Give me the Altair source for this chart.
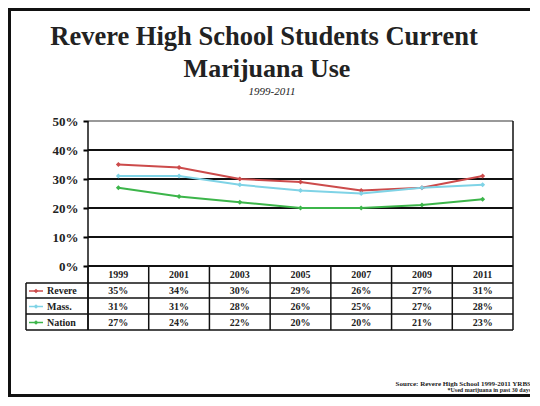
import altair as alt
import pandas as pd

years = ["1999", "2001", "2003", "2005", "2007", "2009", "2011"]
series = ["Revere", "Mass.", "Nation"]
revere = [35, 34, 30, 29, 26, 27, 31]
mass = [31, 31, 28, 26, 25, 27, 28]
nation = [27, 24, 22, 20, 20, 21, 23]
colors = ["#cc4b4b", "#7fd3e6", "#3cb54a"]
y_ticks = [0, 10, 20, 30, 40, 50]
title_lines = ["Revere High School Students Current", "Marijuana Use"]
subtitle = "1999-2011"
source_lines = ["Source: Revere High School 1999-2011 YRBS", "*Used marijuana in past 30 days"]

W, H = 425, 145
SERIF = "Liberation Serif"

rows = []
for s, vals in zip(series, [revere, mass, nation]):
    for y, v in zip(years, vals):
        rows.append({"year": y, "series": s, "value": v})
df = pd.DataFrame(rows)
years_df = pd.DataFrame({"year": years})
one = pd.DataFrame({"a": [0]})

xs = alt.X("year:O", sort=years, scale=alt.Scale(domain=years, paddingInner=0, paddingOuter=0), axis=None)
yaxis = alt.Axis(values=y_ticks, labelExpr="datum.value + '%'", grid=False, domain=False,
                 ticks=True, tickSize=5, tickColor="black", tickWidth=2,
                 labelFont=SERIF, labelFontWeight="bold", labelFontSize=13, labelColor="#222",
                 labelPadding=5, title=None)
ys = alt.Y("value:Q", scale=alt.Scale(domain=[0, 50]), axis=yaxis)
color = alt.Color("series:N", scale=alt.Scale(domain=series, range=colors), legend=None)

layers = []

# frame
layers.append(alt.Chart(one).mark_rect(fillOpacity=0, stroke="#111", strokeWidth=3).encode(
    x=alt.value(-78.5), x2=alt.value(700), y=alt.value(-111.5), y2=alt.value(274.5)))

# grid lines
grid_df = pd.DataFrame({"value": y_ticks})
layers.append(alt.Chart(grid_df).transform_filter("datum.value < 50").mark_rule(color="#111", strokeWidth=2).encode(y=ys))
layers.append(alt.Chart(grid_df).transform_filter("datum.value == 50").mark_rule(color="#777", strokeWidth=1.5).encode(y=ys))

# lines and points
layers.append(alt.Chart(df).mark_line(strokeWidth=2).encode(x=xs, y=ys, color=color))
layers.append(alt.Chart(df).mark_point(filled=True, shape="diamond", size=25, opacity=1).encode(
    x=xs, y=ys, color=color))

# table vertical lines
layers.append(alt.Chart(years_df).mark_rule(color="#111", strokeWidth=1.5).encode(
    x=alt.X("year:O", sort=years, scale=alt.Scale(domain=years, paddingInner=0, paddingOuter=0), axis=None, bandPosition=0),
    y=alt.value(H), y2=alt.value(209)))
layers.append(alt.Chart(one).mark_rule(color="#111", strokeWidth=1.5).encode(
    x=alt.value(0), y=alt.value(0), y2=alt.value(209)))
layers.append(alt.Chart(one).mark_rule(color="#111", strokeWidth=1.5).encode(
    x=alt.value(W), y=alt.value(0), y2=alt.value(209)))
layers.append(alt.Chart(one).mark_rule(color="#111", strokeWidth=1.5).encode(
    x=alt.value(-62), y=alt.value(162), y2=alt.value(209)))
# table horizontal lines
for yy in [162, 177, 193, 209]:
    layers.append(alt.Chart(one).mark_rule(color="#111", strokeWidth=1.5).encode(
        x=alt.value(-62), x2=alt.value(W), y=alt.value(yy)))

# header years
layers.append(alt.Chart(years_df).mark_text(font=SERIF, fontWeight="bold", fontSize=10, color="#222").encode(
    x=xs, y=alt.value(154), text="year:N"))

# rows
row_y = [170, 185.5, 201.5]
for s, c, ry in zip(series, colors, row_y):
    sub = df[df.series == s]
    layers.append(alt.Chart(sub).transform_calculate(label="datum.value + '%'").mark_text(
        font=SERIF, fontWeight="bold", fontSize=10, color="#222").encode(
        x=xs, y=alt.value(ry), text="label:N"))
    sdf = pd.DataFrame({"series": [s]})
    layers.append(alt.Chart(sdf).mark_rule(color=c, strokeWidth=1.5).encode(
        x=alt.value(-59), x2=alt.value(-45), y=alt.value(ry)))
    layers.append(alt.Chart(sdf).mark_point(filled=True, shape="diamond", size=20, color=c, opacity=1).encode(
        x=alt.value(-52), y=alt.value(ry)))
    layers.append(alt.Chart(sdf).mark_text(font=SERIF, fontWeight="bold", fontSize=10, color="#222", align="left").encode(
        x=alt.value(-41), y=alt.value(ry), text="series:N"))

# titles
layers.append(alt.Chart(pd.DataFrame({"t": [title_lines[0]]})).mark_text(
    font=SERIF, fontWeight="bold", fontSize=26.5, color="#222").encode(
    x=alt.value(176), y=alt.value(-84), text="t:N"))
layers.append(alt.Chart(pd.DataFrame({"t": [title_lines[1]]})).mark_text(
    font=SERIF, fontWeight="bold", fontSize=26, color="#222").encode(
    x=alt.value(179), y=alt.value(-52), text="t:N"))
layers.append(alt.Chart(pd.DataFrame({"t": [subtitle]})).mark_text(
    font=SERIF, fontStyle="italic", fontSize=11, color="#222").encode(
    x=alt.value(184), y=alt.value(-29), text="t:N"))

# source
layers.append(alt.Chart(pd.DataFrame({"t": [source_lines[0]]})).mark_text(
    font=SERIF, fontWeight="bold", fontSize=7, color="#222", align="right").encode(
    x=alt.value(443), y=alt.value(263), text="t:N"))
layers.append(alt.Chart(pd.DataFrame({"t": [source_lines[1]]})).mark_text(
    font=SERIF, fontWeight="bold", fontSize=6, color="#222", align="right").encode(
    x=alt.value(443), y=alt.value(269), text="t:N"))

chart = alt.layer(*layers).properties(
    width=W, height=H,
    autosize=alt.AutoSizeParams(type="none"),
    padding={"left": 80, "top": 113, "right": 17, "bottom": 131},
    background="white",
).configure_view(stroke=None)

chart.save("out.html", embed_options={"renderer": "svg", "actions": False})
